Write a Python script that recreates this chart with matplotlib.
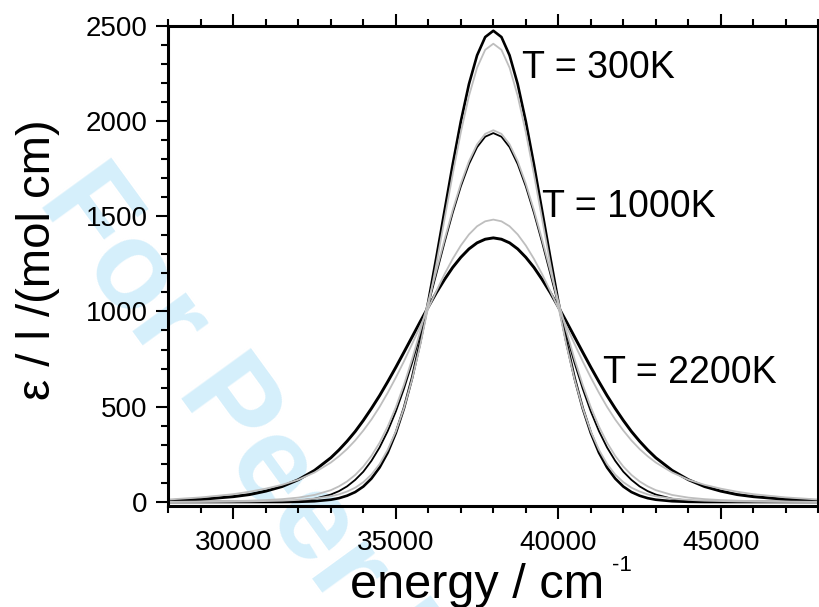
import matplotlib
matplotlib.use('Agg')
import matplotlib.pyplot as plt
from matplotlib.ticker import MultipleLocator

plt.rcParams['font.family'] = ['Liberation Sans', 'DejaVu Sans']

# energie (cm-1), grille plus fine autour du maximum
energy = [28000, 29000, 30000, 30500, 31000, 31500, 32000, 32500, 33000, 33250,
          33500, 33750, 34000, 34250, 34500, 34750, 35000, 35250, 35500, 35750,
          36000, 36250, 36500, 36750, 37000, 37250, 37500, 37750, 38000, 38250,
          38500, 38750, 39000, 39250, 39500, 39750, 40000, 40250, 40500, 40750,
          41000, 41250, 41500, 41750, 42000, 42250, 42500, 42750, 43000, 43500,
          44000, 44500, 45000, 45500, 46000, 47000, 48000]

# courbes noires
black_300 = [0, 0, 0, 0, 0, 0, 1, 4, 12, 20, 33, 52, 81, 123, 181, 259, 362,
             492, 651, 839, 1052, 1286, 1529, 1771, 1997, 2193, 2344, 2440, 2473,
             2440, 2344, 2193, 1997, 1771, 1529, 1286, 1052, 839, 651, 492, 362,
             259, 181, 123, 81, 52, 33, 20, 12, 4, 1, 0, 0, 0, 0, 0, 0]
black_1000 = [0, 0, 0, 0, 1, 3, 7, 17, 39, 57, 82, 116, 159, 216, 286, 372, 475,
              595, 730, 879, 1037, 1200, 1363, 1517, 1656, 1773, 1862, 1917,
              1936, 1917, 1862, 1773, 1656, 1517, 1363, 1200, 1037, 879, 730,
              595, 475, 372, 286, 216, 159, 116, 82, 57, 39, 17, 7, 3, 1, 0, 0,
              0, 0]
black_2200 = [7, 14, 28, 39, 57, 81, 117, 166, 232, 273, 319, 370, 428, 491,
              558, 631, 707, 786, 866, 946, 1024, 1099, 1168, 1231, 1284, 1328,
              1360, 1379, 1386, 1379, 1360, 1328, 1284, 1231, 1168, 1099, 1024,
              946, 866, 786, 707, 631, 558, 491, 428, 370, 319, 273, 232, 166,
              117, 81, 57, 39, 28, 14, 7]

# courbes grises
gray_300 = [0, 1, 2, 3, 5, 7, 11, 18, 30, 40, 55, 75, 104, 144, 199, 274, 370,
            493, 644, 823, 1027, 1251, 1486, 1720, 1940, 2131, 2279, 2373, 2405,
            2373, 2279, 2131, 1940, 1720, 1486, 1251, 1027, 823, 644, 493, 370,
            274, 199, 144, 104, 75, 55, 40, 30, 18, 11, 7, 5, 3, 2, 1, 0]
gray_1000 = [1, 2, 4, 7, 10, 15, 23, 37, 62, 82, 108, 142, 186, 242, 311, 396,
             497, 615, 749, 896, 1053, 1215, 1377, 1531, 1670, 1788, 1877, 1932,
             1951, 1932, 1877, 1788, 1670, 1531, 1377, 1215, 1053, 896, 749, 615,
             497, 396, 311, 242, 186, 142, 108, 82, 62, 37, 23, 15, 10, 7, 4, 2,
             1]
gray_2200 = [13, 24, 41, 54, 70, 90, 117, 155, 207, 240, 278, 323, 375, 433,
             499, 573, 653, 738, 829, 922, 1016, 1108, 1196, 1276, 1346, 1404,
             1447, 1473, 1482, 1473, 1447, 1404, 1346, 1276, 1196, 1108, 1016,
             922, 829, 738, 653, 573, 499, 433, 375, 323, 278, 240, 207, 155,
             117, 90, 70, 54, 41, 24, 13]

labels = ['T = 300K', 'T = 1000K', 'T = 2200K']
label_pos = [(38883, 2223), (39508, 1497), (41385, 623)]

fig = plt.figure(figsize=(8.19, 6.07), dpi=100)

# filigrane
fig.text(0.045, 0.670, 'For Peer Review', rotation=-54, rotation_mode='anchor',
         ha='left', va='baseline', fontsize=90, fontweight='bold',
         color='#d5effb', zorder=-1)

ax = fig.add_axes([0.2055, 0.1664, 0.7937, 0.7914])
ax.set_facecolor('none')

ax.plot(energy, black_300, color='black', lw=1.9)
ax.plot(energy, black_1000, color='black', lw=1.3)
ax.plot(energy, black_2200, color='black', lw=2.1)
ax.plot(energy, gray_300, color='#bebebe', lw=1.3)
ax.plot(energy, gray_1000, color='#bebebe', lw=1.3)
ax.plot(energy, gray_2200, color='#bebebe', lw=1.3)

for txt, (x, y) in zip(labels, label_pos):
    ax.text(x, y, txt, fontsize=27, ha='left', va='baseline')

ax.set_xlim(28000, 48000)
ax.set_ylim(-21, 2500)
ax.set_xticks([30000, 35000, 40000, 45000])
ax.xaxis.set_minor_locator(MultipleLocator(1000))
ax.set_yticks([0, 500, 1000, 1500, 2000, 2500])
ax.yaxis.set_minor_locator(MultipleLocator(100))

ax.tick_params(which='both', direction='out', top=True, right=False, width=1.5)
ax.tick_params(which='major', length=9, labelsize=20)
ax.tick_params(which='minor', length=5)
ax.tick_params(axis='x', pad=8)
ax.tick_params(axis='y', pad=6)
for s in ax.spines.values():
    s.set_linewidth(2.2)

ax.set_ylabel('ε / l /(mol cm)', fontsize=34)
ax.yaxis.set_label_coords(-0.1666, 0.512)

ax.text(0.2795, -0.1915, 'energy / cm', transform=ax.transAxes, fontsize=35,
        ha='left', va='baseline', clip_on=False)
ax.text(0.6826, -0.1353, '-1', transform=ax.transAxes, fontsize=16,
        ha='left', va='baseline', clip_on=False)

fig.savefig('out.png', dpi=100)
